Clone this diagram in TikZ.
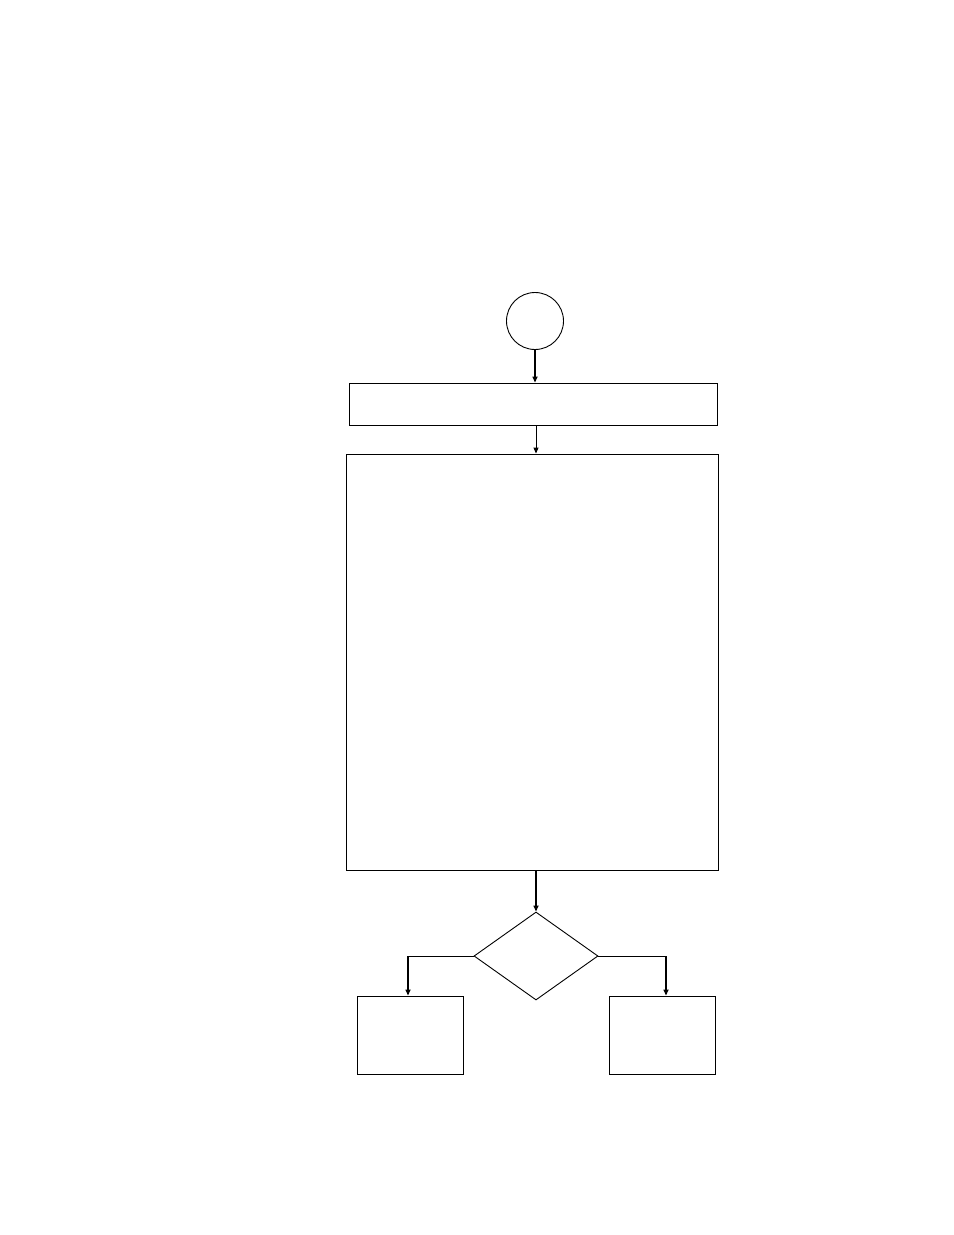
\documentclass[tikz,border=0pt]{standalone}
\usetikzlibrary{shapes.geometric,arrows.meta}
\begin{document}
\begin{tikzpicture}[x=1bp,y=-1bp,
  shapebox/.style={draw, line width=0.9bp, inner sep=0pt},
  flow/.style={line width=1.6bp, -{Triangle[length=6bp,width=5bp]}},
  thinflow/.style={line width=0.9bp, -{Triangle[length=6bp,width=5bp]}},
  thinline/.style={line width=0.9bp}]
\useasboundingbox (0,0) rectangle (954,1235);
\node[shapebox, circle, minimum size=57bp] (c) at (535,321) {};
\node[shapebox, rectangle, minimum width=368bp, minimum height=42bp] (b1) at (533,404) {};
\node[shapebox, rectangle, minimum width=372bp, minimum height=416bp] (b2) at (532,662) {};
\node[shapebox, diamond, minimum width=124bp, minimum height=88bp, aspect=1.41] (d) at (536,956) {};
\node[shapebox, rectangle, minimum width=106bp, minimum height=78bp] (l) at (410,1035) {};
\node[shapebox, rectangle, minimum width=106bp, minimum height=78bp] (r) at (662,1035) {};
\draw[flow] (c.south) -- (c.south |- b1.north);
\draw[thinflow] ([xshift=3bp]b1.south) -- ([xshift=3bp]b1.south |- b2.north);
\draw[flow] (d.north |- b2.south) -- (d.north);
\coordinate (lk) at ([xshift=-2bp]l.north |- d.west);
\coordinate (rk) at ([xshift=4bp]r.north |- d.east);
\draw[thinline] (d.west) -- (lk);
\draw[flow] (lk) -- (lk |- l.north);
\draw[thinline] (d.east) -- (rk);
\draw[flow] (rk) -- (rk |- r.north);
\end{tikzpicture}
\end{document}
